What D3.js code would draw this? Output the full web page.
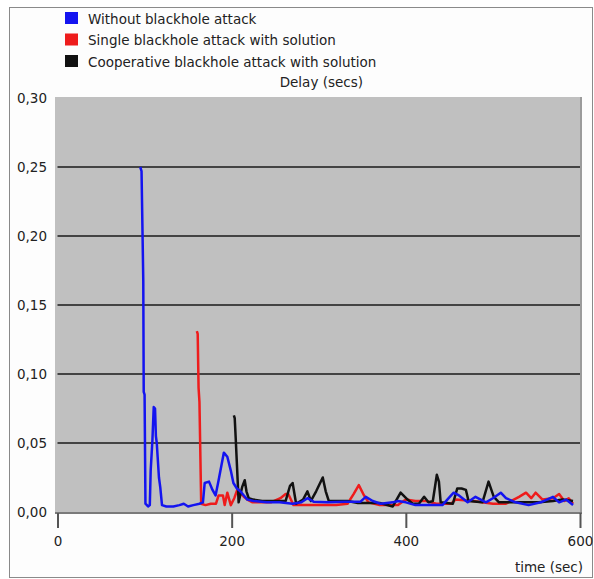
<!DOCTYPE html>
<html>
<head>
<meta charset="utf-8">
<script src="https://cdn.jsdelivr.net/npm/d3@7"></script>
<style>
  body { margin: 0; background: #fff; }
  text { font-family: "DejaVu Sans", Verdana, sans-serif; fill: #222; }
</style>
</head>
<body>
<div id="chart"></div>
<script>
// series names + colours (legend order)
var seriesNames = ["Without blackhole attack", "Single blackhole attack with solution", "Cooperative blackhole attack with solution"];
var seriesColors = ["#1414f0", "#ee1c1c", "#111111"];

// [time (sec), delay (secs)]
var withoutAttack = [
    [95, 0.250], [96.5, 0.247], [98.5, 0.168], [99, 0.087], [100, 0.085], [101, 0.006], [104, 0.004], [106, 0.005],
    [107, 0.030], [109, 0.052], [110.5, 0.076], [112, 0.075], [113, 0.055], [114, 0.050], [115, 0.040], [116.5, 0.025],
    [118, 0.018], [120, 0.005], [125, 0.004], [133, 0.004], [140, 0.005], [145, 0.006], [150, 0.004], [156, 0.005],
    [163, 0.006], [167, 0.007], [169, 0.021], [174, 0.022], [178, 0.016], [181.5, 0.012], [185, 0.023], [191, 0.043],
    [195, 0.040], [199, 0.030], [202, 0.021], [206, 0.017], [210, 0.015], [214, 0.012], [218, 0.009], [225, 0.008],
    [240, 0.007], [255, 0.007], [270, 0.006], [280, 0.007], [287, 0.010], [294, 0.0075], [310, 0.007], [330, 0.0075],
    [348, 0.0075], [354, 0.011], [362, 0.008], [371, 0.006], [385, 0.007], [391, 0.008], [400, 0.007], [411, 0.005],
    [420, 0.005], [430, 0.005], [442, 0.005], [452, 0.012], [455, 0.014], [461, 0.012], [471, 0.007], [480, 0.011],
    [492, 0.007], [500, 0.010], [509, 0.014], [515, 0.010], [526, 0.007], [541, 0.005], [555, 0.007], [569, 0.011],
    [576, 0.007], [584, 0.009], [592, 0.005]
];

var singleAttack = [
    [160, 0.131], [161, 0.129], [162, 0.090], [163, 0.080], [165, 0.006], [170, 0.005], [176, 0.006], [182, 0.006],
    [185, 0.012], [190, 0.012], [192, 0.005], [195, 0.014], [199, 0.005], [203, 0.010], [207, 0.017], [210, 0.014],
    [214, 0.011], [218, 0.009], [224, 0.007], [233, 0.007], [245, 0.007], [256, 0.010], [262, 0.013], [265, 0.013],
    [271, 0.005], [285, 0.005], [300, 0.005], [320, 0.005], [333, 0.006], [340, 0.013], [346, 0.0195], [352, 0.012],
    [357, 0.007], [370, 0.005], [391, 0.005], [400, 0.009], [411, 0.008], [423, 0.008], [435, 0.006], [452, 0.006],
    [457, 0.009], [477, 0.008], [500, 0.006], [515, 0.006], [530, 0.011], [538, 0.014], [544, 0.010], [549, 0.014],
    [557, 0.009], [569, 0.010], [576, 0.013], [582, 0.008], [587, 0.010], [592, 0.006]
];

var cooperativeAttack = [
    [202.5, 0.070], [203.5, 0.068], [204.6, 0.054], [206.5, 0.028], [208, 0.007], [212, 0.018], [215, 0.023], [217, 0.015],
    [219.5, 0.010], [225, 0.009], [235, 0.008], [250, 0.008], [262, 0.008], [267, 0.019], [270, 0.021], [274, 0.006],
    [282, 0.009], [287, 0.015], [291, 0.008], [297, 0.015], [304.6, 0.025], [308, 0.015], [311.5, 0.008], [333, 0.008],
    [345, 0.0065], [370, 0.0065], [385, 0.004], [394, 0.014], [402, 0.009], [408, 0.006], [415, 0.006], [421, 0.011],
    [426, 0.007], [431, 0.008], [435.6, 0.027], [438, 0.022], [440, 0.007], [454, 0.006], [459, 0.017], [464, 0.017],
    [469, 0.016], [472, 0.008], [488, 0.007], [495, 0.022], [501, 0.011], [507, 0.007], [523, 0.007], [538, 0.007],
    [553, 0.007], [569, 0.008], [580, 0.009], [592, 0.008]
];

var xTicks = [0, 200, 400, 600];
var yTicks = [0, 0.05, 0.10, 0.15, 0.20, 0.25, 0.30];

var width = 594,
    height = 579,
    fontSize = 13.5;

var svg = d3.select("#chart").append("svg")
    .attr("width", width)
    .attr("height", height);

// outer frame
svg.append("rect")
    .attr("x", 9.5).attr("y", 7.5)
    .attr("width", 583).attr("height", 570)
    .attr("fill", "#fdfdfd")
    .attr("stroke", "#8a8a8a")
    .attr("stroke-width", 1);

var x = d3.scaleLinear().domain([0, 600]).range([57.5, 580]);
var y = d3.scaleLinear().domain([0, 0.30]).range([512, 98]);

// grey plot area
svg.append("rect")
    .attr("x", 55).attr("y", 97)
    .attr("width", 527).attr("height", 416)
    .attr("fill", "#c0c0c0");
svg.append("line")
    .attr("x1", 581).attr("x2", 581).attr("y1", 97).attr("y2", 513)
    .attr("stroke", "#9c9c9c").attr("stroke-width", 2);
svg.append("line")
    .attr("x1", 55).attr("x2", 582).attr("y1", 513).attr("y2", 513)
    .attr("stroke", "#7a7a7a").attr("stroke-width", 2);

// grid lines
svg.append("g").selectAll("line")
    .data(yTicks.filter(function (d) { return d > 0 && d < 0.30; }))
    .enter().append("line")
    .attr("x1", x(0)).attr("x2", x(600))
    .attr("y1", function (d) { return y(d); })
    .attr("y2", function (d) { return y(d); })
    .attr("stroke", "#1a1a1a")
    .attr("stroke-width", 1.5);

// y labels (comma decimal)
var comma = d3.formatLocale({ decimal: ",", thousands: ".", grouping: [3], currency: ["", ""] }).format(".2f");
var yAxis = d3.axisLeft(y).tickValues(yTicks).tickSize(0).tickPadding(0).tickFormat(comma);
svg.append("g")
    .attr("transform", "translate(47,0)")
    .call(yAxis)
    .call(function (g) { g.select(".domain").remove(); })
    .selectAll("text")
    .attr("font-size", fontSize)
    .attr("font-family", "DejaVu Sans, Verdana, sans-serif")
    .attr("fill", "#222");

// x axis
var xAxis = d3.axisBottom(x).tickValues(xTicks).tickSize(15).tickPadding(8).tickFormat(d3.format("d"));
var xg = svg.append("g")
    .attr("transform", "translate(0,513)")
    .call(xAxis);
xg.select(".domain").remove();
xg.selectAll(".tick line").attr("stroke", "#555").attr("stroke-width", 2);
xg.selectAll("text")
    .attr("font-size", fontSize)
    .attr("font-family", "DejaVu Sans, Verdana, sans-serif")
    .attr("fill", "#222");

svg.append("text")
    .attr("x", 583).attr("y", 572)
    .attr("text-anchor", "end")
    .attr("font-size", fontSize)
    .text("time (sec)");

svg.append("text")
    .attr("x", 363).attr("y", 87)
    .attr("text-anchor", "end")
    .attr("font-size", fontSize)
    .text("Delay (secs)");

// lines, red and black first so blue sits on top
var line = d3.line()
    .x(function (d) { return x(d[0]); })
    .y(function (d) { return y(d[1]); });

var drawOrder = [
    { data: singleAttack, color: seriesColors[1] },
    { data: cooperativeAttack, color: seriesColors[2] },
    { data: withoutAttack, color: seriesColors[0] }
];

svg.append("g").selectAll("path")
    .data(drawOrder)
    .enter().append("path")
    .attr("d", function (d) { return line(d.data); })
    .attr("fill", "none")
    .attr("stroke", function (d) { return d.color; })
    .attr("stroke-width", 2.5)
    .attr("stroke-linejoin", "round");

// legend
var legend = svg.append("g").selectAll("g")
    .data(seriesNames)
    .enter().append("g")
    .attr("transform", function (d, i) { return "translate(65," + (12 + i * 21.5) + ")"; });

legend.append("rect")
    .attr("width", 13).attr("height", 12)
    .attr("fill", function (d, i) { return seriesColors[i]; });

legend.append("text")
    .attr("x", 23).attr("y", 11.5)
    .attr("font-size", fontSize)
    .text(function (d) { return d; });
</script>
</body>
</html>
